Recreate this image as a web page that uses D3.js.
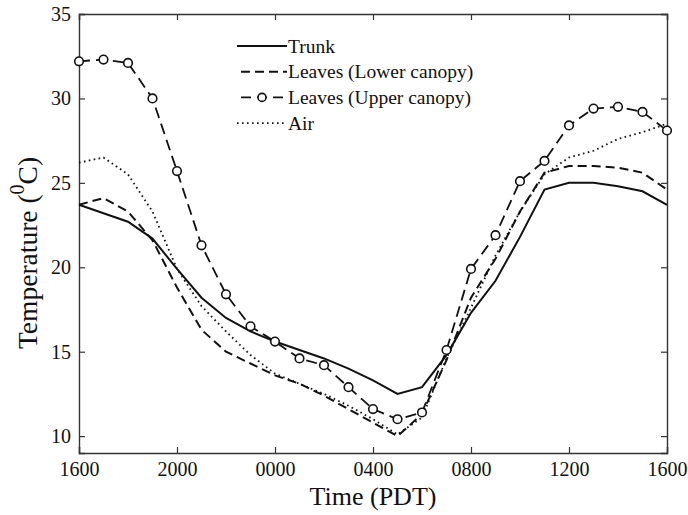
<!DOCTYPE html>
<html>
<head>
<meta charset="UTF-8">
<title>Temperature</title>
<script src="https://d3js.org/d3.v7.min.js"></script>
<style>
  body { margin: 0; background: #fff; }
  text { font-family: "Liberation Serif", "Times New Roman", serif; fill: #111; }
</style>
</head>
<body>
<div id="chart"></div>
<script>
// hours after 1600 PDT
var hours = d3.range(0, 25);
var tickHours = [0, 4, 8, 12, 16, 20, 24];
var tickLabels = ["1600", "2000", "0000", "0400", "0800", "1200", "1600"];
var yTicks = [10, 15, 20, 25, 30, 35];

var trunk = [23.7, 23.2, 22.7, 21.7, 19.9, 18.2, 17.0, 16.2, 15.6, 15.1, 14.6, 14.0, 13.3,
             12.5, 12.9, 14.8, 17.3, 19.2, 21.8, 24.6, 25.0, 25.0, 24.8, 24.5, 23.7];
var lowerCanopy = [23.7, 24.1, 23.3, 21.6, 18.8, 16.3, 15.0, 14.3, 13.6, 13.1, 12.4, 11.6, 10.8,
                   10.0, 11.3, 14.5, 18.2, 20.5, 23.3, 25.6, 26.0, 26.0, 25.9, 25.6, 24.6];
var upperCanopy = [32.2, 32.3, 32.1, 30.0, 25.7, 21.3, 18.4, 16.5, 15.6, 14.6, 14.2, 12.9, 11.6,
                   11.0, 11.4, 15.1, 19.9, 21.9, 25.1, 26.3, 28.4, 29.4, 29.5, 29.2, 28.1];
var air = [26.2, 26.5, 25.5, 23.3, 19.9, 17.7, 16.2, 14.8, 13.7, 13.1, 12.5, 11.8, 11.0,
           10.1, 11.1, 14.6, 17.6, 20.7, 23.3, 25.5, 26.5, 26.9, 27.6, 28.0, 28.5];

var seriesNames = ["Trunk", "Leaves (Lower canopy)", "Leaves (Upper canopy)", "Air"];

var W = 688, H = 515;
var m = { left: 79, right: 667, top: 14, bottom: 453 };

var svg = d3.select("#chart").append("svg")
    .attr("width", W).attr("height", H);

var x = d3.scaleLinear().domain([0, 24]).range([m.left, m.right]);
var y = d3.scaleLinear().domain([9, 35]).range([m.bottom, m.top]);

// axes, ticks pointing inward on all four sides
var ax = svg.append("g").attr("class", "axes");
ax.append("g").attr("transform", "translate(0," + m.bottom + ")")
    .call(d3.axisBottom(x).tickValues(tickHours).tickSize(-6).tickPadding(9)
        .tickFormat(function(d, i) { return tickLabels[i]; }));
ax.append("g").attr("transform", "translate(0," + m.top + ")")
    .call(d3.axisTop(x).tickValues(tickHours).tickSize(-6).tickFormat(""));
ax.append("g").attr("transform", "translate(" + m.left + ",0)")
    .call(d3.axisLeft(y).tickValues(yTicks).tickSize(-6).tickPadding(8));
ax.append("g").attr("transform", "translate(" + m.right + ",0)")
    .call(d3.axisRight(y).tickValues(yTicks).tickSize(-6).tickFormat(""));
ax.selectAll(".domain").attr("stroke", "#333").attr("stroke-width", 1.4);
ax.selectAll(".tick line").attr("stroke", "#333").attr("stroke-width", 1.2);
ax.selectAll(".tick text").style("font-family", "Liberation Serif, serif")
    .style("font-size", "20px").attr("fill", "#222");

var line = d3.line()
    .x(function(d, i) { return x(hours[i]); })
    .y(function(d) { return y(d); });

var styles = [
  { data: trunk, dash: null, width: 2 },
  { data: lowerCanopy, dash: "9,5", width: 2 },
  { data: upperCanopy, dash: "11,6", width: 1.8 },
  { data: air, dash: "1.6,3.4", width: 1.8 }
];

styles.forEach(function(s) {
  svg.append("path")
    .datum(s.data)
    .attr("d", line)
    .attr("fill", "none")
    .attr("stroke", "#111")
    .attr("stroke-width", s.width)
    .attr("stroke-dasharray", s.dash);
});

svg.append("g").selectAll("circle")
    .data(upperCanopy)
    .join("circle")
    .attr("cx", function(d, i) { return x(hours[i]); })
    .attr("cy", function(d) { return y(d); })
    .attr("r", 4.3)
    .attr("fill", "#fff")
    .attr("stroke", "#111")
    .attr("stroke-width", 1.6);

// legend
var lg = svg.append("g").attr("transform", "translate(237,46)");
seriesNames.forEach(function(name, i) {
  var s = styles[i];
  var row = lg.append("g").attr("transform", "translate(0," + (i * 25.7) + ")");
  row.append("line")
    .attr("x1", i == 1 || i == 2 ? 4 : 0).attr("x2", 50)
    .attr("y1", 0).attr("y2", 0)
    .attr("stroke", "#111")
    .attr("stroke-width", s.width)
    .attr("stroke-dasharray", i == 2 ? "10,6" : s.dash);
  if (i == 2) {
    row.append("circle").attr("cx", 25).attr("cy", 0).attr("r", 4)
      .attr("fill", "#fff").attr("stroke", "#111").attr("stroke-width", 1.6);
  }
  row.append("text")
    .attr("x", 51).attr("y", 6.5)
    .style("font-size", "19.5px")
    .text(name);
});

// axis labels
svg.append("text")
    .attr("x", (m.left + m.right) / 2).attr("y", 505)
    .attr("text-anchor", "middle")
    .style("font-size", "26px")
    .text("Time (PDT)");

var yl = svg.append("text")
    .attr("transform", "translate(37,253) rotate(-90)")
    .attr("text-anchor", "middle")
    .style("font-size", "27.5px");
yl.append("tspan").text("Temperature (");
yl.append("tspan").attr("dy", -13).style("font-size", "20px").text("0");
yl.append("tspan").attr("dy", 13).text("C)");
</script>
</body>
</html>
